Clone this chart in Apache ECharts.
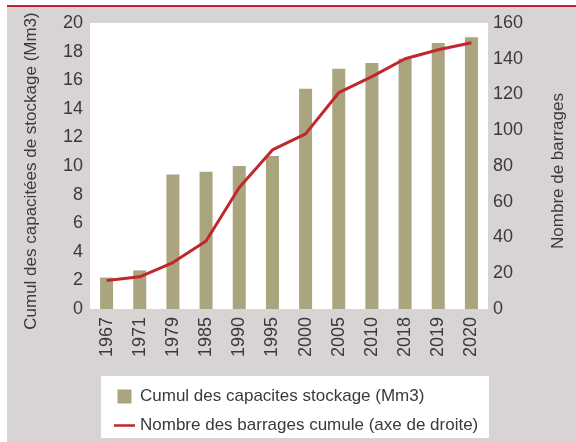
<!DOCTYPE html>
<html>
<head>
<meta charset="utf-8">
<script src="https://cdn.jsdelivr.net/npm/echarts@6/dist/echarts.min.js"></script>
<style>
  html, body { margin: 0; padding: 0; background: #fff; }
  #bg {
    position: absolute; left: 7px; top: 5px; width: 569px; height: 437px;
    box-sizing: border-box; background: #d9d4d4; border-top: 2px solid #c8202f;
  }
  #chart { position: absolute; left: 0; top: 0; width: 576px; height: 442px; }
</style>
</head>
<body>
<div id="bg"></div>
<div id="chart"></div>
<script>
// années
const years = ["1967", "1971", "1979", "1985", "1990", "1995", "2000", "2005", "2010", "2018", "2019", "2020"];
// cumul des capacites de stockage (Mm3) - axe gauche
const capacites = [2.2, 2.7, 9.4, 9.6, 10.0, 10.7, 15.4, 16.8, 17.2, 17.5, 18.6, 19.0];
// nombre de barrages cumule - axe droite
const barrages = [16, 18, 26, 38, 68, 89, 98, 121, 130, 140, 145, 149];

const font = "'Liberation Sans', Arial, sans-serif";
const txt = "#3a3a3a";

const option = {
  backgroundColor: "transparent",
  textStyle: { fontFamily: font, color: txt },
  grid: {
    left: 90, top: 23, right: 88, bottom: 133,
    show: true, backgroundColor: "#fff", borderWidth: 0,
  },
  graphic: [
    {
      type: "rect", left: 101, top: 376, z: -1,
      shape: { width: 388, height: 62 },
      style: { fill: "#fff" },
    },
  ],
  legend: {
    orient: "vertical",
    left: 114, top: 388,
    itemWidth: 21, itemHeight: 14, itemGap: 12,
    padding: 0,
    textStyle: { fontFamily: font, fontSize: 17, color: txt },
    data: [
      { name: "Cumul des capacites stockage (Mm3)", icon: "path://M0,0H14V14H0Z" },
      { name: "Nombre des barrages cumule (axe de droite)", icon: "path://M0,0H21V2.5H0Z" },
    ],
  },
  xAxis: {
    type: "category",
    data: years,
    axisLine: { show: false },
    axisTick: { show: false },
    axisLabel: { rotate: 90, margin: 8, fontSize: 18, color: txt, fontFamily: font },
  },
  yAxis: [
    {
      type: "value", min: 0, max: 20, interval: 2,
      name: "Cumul des capacitées de stockage (Mm3)",
      nameLocation: "middle", nameGap: 50, nameRotate: 90,
      nameTextStyle: { fontSize: 17, color: txt, fontFamily: font, padding: [0, 10, 0, 0] },
      axisLine: { show: false }, axisTick: { show: false }, splitLine: { show: false },
      axisLabel: { margin: 7, fontSize: 18, color: txt, fontFamily: font },
    },
    {
      type: "value", min: 0, max: 160, interval: 20,
      name: "Nombre de barrages",
      nameLocation: "middle", nameGap: 62, nameRotate: 90,
      nameTextStyle: { fontSize: 17, color: txt, fontFamily: font, padding: [0, 10, 0, 0] },
      axisLine: { show: false }, axisTick: { show: false }, splitLine: { show: false },
      axisLabel: { margin: 5, fontSize: 18, color: txt, fontFamily: font },
    },
  ],
  series: [
    {
      name: "Cumul des capacites stockage (Mm3)",
      type: "bar",
      yAxisIndex: 0,
      barWidth: 13,
      itemStyle: { color: "#aaa47f" },
      data: capacites,
    },
    {
      name: "Nombre des barrages cumule (axe de droite)",
      type: "line",
      yAxisIndex: 1,
      symbol: "none",
      lineStyle: { color: "#c1272d", width: 3 },
      itemStyle: { color: "#c1272d" },
      data: barrages,
    },
  ],
};

echarts.init(document.getElementById("chart")).setOption(option);
</script>
</body>
</html>
